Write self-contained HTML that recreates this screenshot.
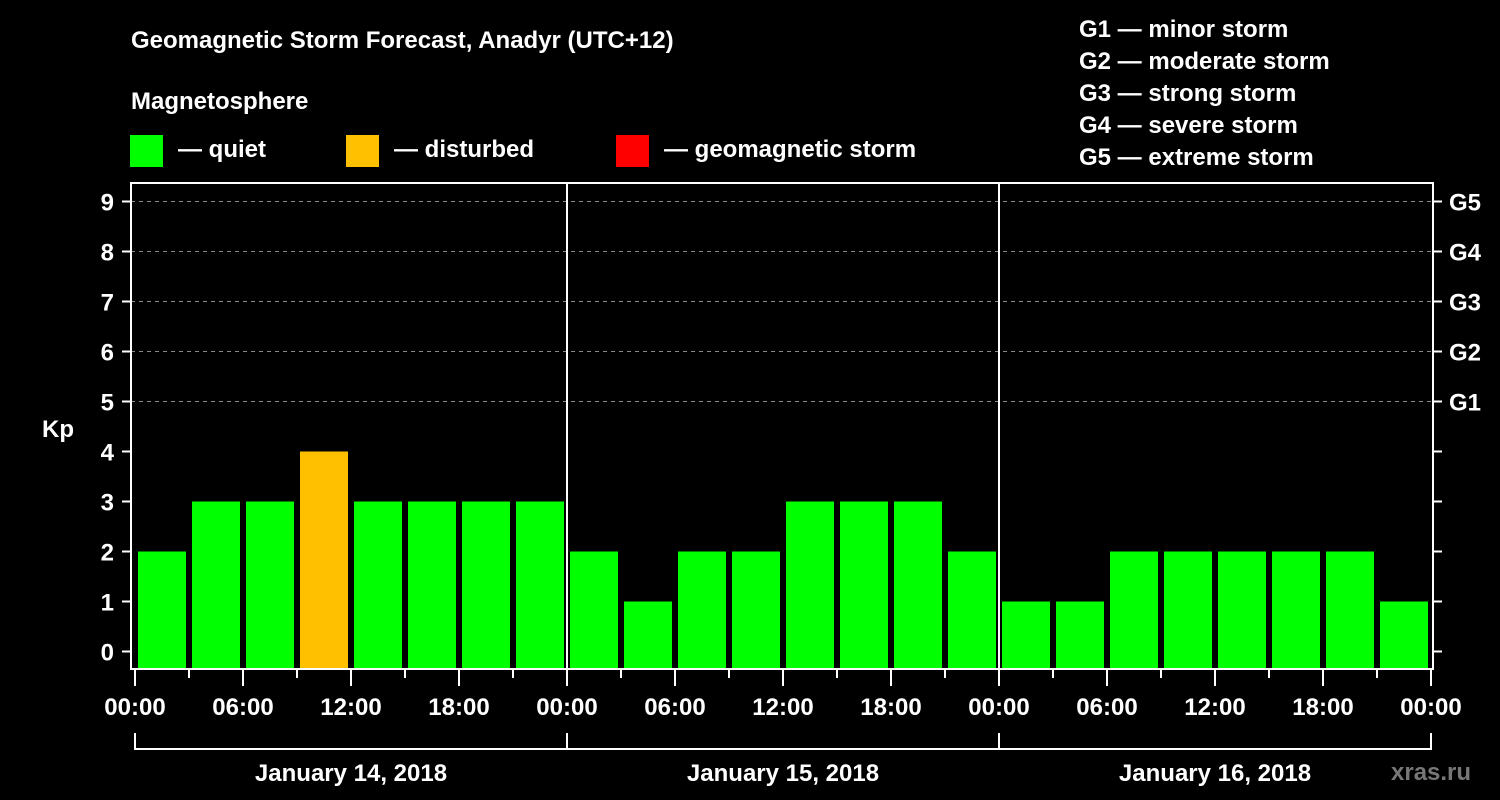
<!DOCTYPE html>
<html><head><meta charset="utf-8"><style>
html,body{margin:0;padding:0;background:#000;}
svg{display:block;font-family:"Liberation Sans",Arial,sans-serif;font-weight:bold;}
</style></head><body>
<svg id="chart" width="1500" height="800" viewBox="0 0 1500 800" xmlns="http://www.w3.org/2000/svg">
<rect x="0" y="0" width="1500" height="800" fill="#000"/>
<text x="131" y="48" fill="#fff" font-size="24">Geomagnetic Storm Forecast, Anadyr (UTC+12)</text>
<text x="131" y="109" fill="#fff" font-size="24">Magnetosphere</text>
<rect x="130" y="135" width="33" height="32" fill="#00ff00"/>
<text x="178" y="157" fill="#fff" font-size="24">— quiet</text>
<rect x="346" y="135" width="33" height="32" fill="#ffc000"/>
<text x="394" y="157" fill="#fff" font-size="24">— disturbed</text>
<rect x="616" y="135" width="33" height="32" fill="#ff0000"/>
<text x="664" y="157" fill="#fff" font-size="24">— geomagnetic storm</text>
<g font-size="24" fill="#fff">
<text x="1079" y="37">G1 — minor storm</text>
<text x="1079" y="69">G2 — moderate storm</text>
<text x="1079" y="101">G3 — strong storm</text>
<text x="1079" y="133">G4 — severe storm</text>
<text x="1079" y="165">G5 — extreme storm</text>
</g>
<text x="42" y="437" fill="#fff" font-size="24">Kp</text>
<text x="1391" y="780" fill="#777" font-size="24">xras.ru</text>
<g id="plot"></g>
</svg>
<script>
const kpValues = [2,3,3,4,3,3,3,3, 2,1,2,2,3,3,3,2, 1,1,2,2,2,2,2,1];
const yTicks = [0,1,2,3,4,5,6,7,8,9];
const gLabels = ["G1","G2","G3","G4","G5"];
const gLevels = [5,6,7,8,9];
const timeLabels = ["00:00","06:00","12:00","18:00"];
const dayLabels = ["January 14, 2018","January 15, 2018","January 16, 2018"];

const NS="http://www.w3.org/2000/svg";
const plot=document.getElementById('plot');
const X0=135, SLOT=54, L=131, R=1433, T=183, B=669;
const xs=i=>X0+i*SLOT;
const ys=v=>651.5-50*v;
function mk(tag,attrs){const e=document.createElementNS(NS,tag);for(const k in attrs)e.setAttribute(k,attrs[k]);plot.appendChild(e);return e;}
function color(v){return v>=5?'#ff0000':(v>=4?'#ffc000':'#00ff00');}

// gridlines
yTicks.forEach(v=>{
  if(v>=5){const g=mk('line',{x1:L,x2:R,y1:ys(v),y2:ys(v),stroke:'#888','stroke-width':1,'stroke-dasharray':'4,4'});
  
  }
});
// bars
kpValues.forEach((v,i)=>{
  const r=mk('rect',{x:xs(i)+3,y:ys(v),width:SLOT-6,height:B-1-ys(v),fill:color(v)});
  
  
});
// frame
const fr=mk('rect',{x:L,y:T,width:R-L,height:B-T,fill:'none',stroke:'#fff','stroke-width':2});


const days=dayLabels.length, perDay=kpValues.length/days;
for(let d=1;d<days;d++){
  const l=mk('line',{x1:xs(d*perDay),x2:xs(d*perDay),y1:T,y2:B,stroke:'#fff','stroke-width':2});
  
  
}
// y ticks & labels
yTicks.forEach(v=>{
  const t=mk('line',{x1:122,x2:L,y1:ys(v),y2:ys(v),stroke:'#fff','stroke-width':2});
  
  
  const t2=mk('line',{x1:R,x2:1442,y1:ys(v),y2:ys(v),stroke:'#fff','stroke-width':2});
  
  
  const tx=mk('text',{x:114,y:ys(v)+9,fill:'#fff','font-size':24,'text-anchor':'end'});
  tx.textContent=v;
  
  
});
gLabels.forEach((g,i)=>{
  const tx=mk('text',{x:1449,y:ys(gLevels[i])+9,fill:'#fff','font-size':24});
  tx.textContent=g;
  
  
});
// x ticks
for(let i=0;i<=kpValues.length;i++){
  const major=i%2===0;
  const t=mk('line',{x1:xs(i),x2:xs(i),y1:B,y2:major?686:678,stroke:'#fff','stroke-width':2});
  
  
  if(major){
    const tx=mk('text',{x:xs(i),y:715,fill:'#fff','font-size':24,'text-anchor':'middle'});
    tx.textContent=timeLabels[(i/2)%timeLabels.length];
    
    
  }
}
// day brackets
const br=mk('path',{d:`M${xs(0)} 733 V749 H${xs(kpValues.length)} V733`,fill:'none',stroke:'#fff','stroke-width':2});


dayLabels.forEach((d,i)=>{
  if(i>0){const l=mk('line',{x1:xs(i*perDay),x2:xs(i*perDay),y1:733,y2:749,stroke:'#fff','stroke-width':2});
  
  }
  const tx=mk('text',{x:(xs(i*perDay)+xs((i+1)*perDay))/2,y:781,fill:'#fff','font-size':24,'text-anchor':'middle'});
  tx.textContent=d;
  
  
});
</script>
</body></html>
